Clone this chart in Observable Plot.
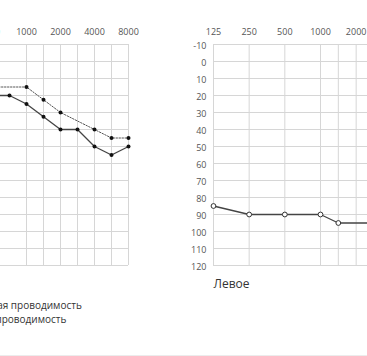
<!DOCTYPE html>
<html>
<head>
<meta charset="utf-8">
<script src="https://cdn.jsdelivr.net/npm/d3@7"></script>
<script src="https://cdn.jsdelivr.net/npm/@observablehq/plot@0.6"></script>
<style>
  html, body { margin: 0; padding: 0; background: #fff; }
  #wrap { position: relative; width: 367px; height: 356px; overflow: hidden; background: #fff;
          font-family: "Open Sans", sans-serif; }
  .panel { position: absolute; top: 0; }
  #legend { position: absolute; top: 298px; font-size: 10px; color: #333; line-height: 14px; white-space: nowrap; }
  #legend .item { display: flex; align-items: center; }
  #legend svg { margin-right: 6px; flex: none; }
  .measure { position: absolute; visibility: hidden; font-family: "Open Sans", sans-serif; font-size: 10px; white-space: pre; }
  #rule { position: absolute; left: 0; top: 355px; width: 367px; height: 1px; background: #ececec; }
</style>
</head>
<body>
<div id="wrap">
  <div id="legend"></div>
  <div id="rule"></div>
</div>
<script>
// Frequency slots along the x axis (null = spacer slot)
const slots = [125, null, 250, null, 500, 750, 1000, 1500, 2000, 3000, 4000, 6000, 8000];
const labelFreqs = [125, 250, 500, 1000, 2000, 4000, 8000];
const gridFreqs = [125, 250, 500, 1000, 1500, 2000, 3000, 4000, 6000, 8000];
const dbTicks = [-10, 0, 10, 20, 30, 40, 50, 60, 70, 80, 90, 100, 110, 120];

// Right ear (left panel)
const rightAirFreq = [500, 750, 1000, 1500, 2000, 3000, 4000, 6000, 8000];
const rightAirDb   = [20, 20, 25, 32.5, 40, 40, 50, 55, 50];
const rightBoneFreq = [500, 1000, 1500, 2000, 4000, 6000, 8000];
const rightBoneDb   = [15, 15, 22.5, 30, 40, 45, 45];

// Left ear (right panel)
const leftAirFreq = [125, 250, 500, 1000, 1500, 3000];
const leftAirDb   = [85, 90, 90, 90, 95, 95];

const panelTitles = ["Правое", "Левое"];
const legendLabels = ["Воздушная проводимость", "Костная проводимость"];

const pos = f => slots.indexOf(f);
const toRows = (fs, ds) => fs.map((f, i) => ({x: pos(f), db: ds[i]}));

function panel({title, series, left, marginLeft, marginRight}) {
  const width = 300;
  const marks = [
    Plot.gridX(gridFreqs.map(pos), {stroke: "#d6d6d6", strokeOpacity: 1}),
    Plot.gridY(dbTicks, {stroke: "#d6d6d6", strokeOpacity: 1}),
    Plot.axisX(labelFreqs.map(pos), {anchor: "top", tickSize: 0, tickPadding: 10, label: null,
      tickFormat: i => String(slots[i]), fill: "#555", fontSize: 9}),
    Plot.axisY(dbTicks, {anchor: "left", tickSize: 0, tickPadding: 7, dy: 2, fill: "#555", fontSize: 9,
      label: null, tickFormat: d => String(d)}),
    Plot.text([title], {frameAnchor: "bottom-left", dy: 22, textAnchor: "start", fontSize: 12, fill: "#333"})
  ];
  for (const s of series) {
    marks.push(Plot.line(s.rows, {x: "x", y: "db", stroke: s.stroke, strokeWidth: s.strokeWidth,
      strokeDasharray: s.dash}));
    marks.push(Plot.dot(s.rows, {x: "x", y: "db", r: s.r, fill: s.fill, stroke: s.dotStroke, strokeWidth: 1}));
  }
  const svg = Plot.plot({
    width, height: 356,
    marginTop: 44, marginBottom: 91, marginLeft, marginRight,
    x: {type: "linear", domain: [0, slots.length - 1], axis: null, label: null},
    y: {domain: [-10, 120], reverse: true, axis: null, label: null},
    style: {fontFamily: "'Open Sans', sans-serif", fontSize: "9px", background: "transparent", overflow: "visible"},
    marks
  });
  svg.classList.add("panel");
  svg.style.left = left + "px";
  svg.style.position = "absolute";
  svg.style.top = "0px";
  document.getElementById("wrap").appendChild(svg);
}

panel({
  title: panelTitles[0], left: -150, marginLeft: 74, marginRight: 22,
  series: [
    {rows: toRows(rightBoneFreq, rightBoneDb), stroke: "#555", strokeWidth: 1, dash: "1.5 1.5", r: 2, fill: "#111", dotStroke: "none"},
    {rows: toRows(rightAirFreq, rightAirDb), stroke: "#444", strokeWidth: 1.3, dash: null, r: 2, fill: "#111", dotStroke: "none"}
  ]
});
panel({
  title: panelTitles[1], left: 150, marginLeft: 63, marginRight: 23,
  series: [
    {rows: toRows(leftAirFreq, leftAirDb), stroke: "#444", strokeWidth: 1.3, dash: null, r: 2.4, fill: "#fff", dotStroke: "#333"}
  ]
});

// Legend
const legend = document.getElementById("legend");
legendLabels.forEach((lab, i) => {
  const item = document.createElement("div");
  item.className = "item";
  const dash = i === 0 ? "" : 'stroke-dasharray="1.5 1.5"';
  item.innerHTML = `<svg width="24" height="8"><line x1="0" y1="4" x2="24" y2="4" stroke="#444" stroke-width="1.2" ${dash}/><circle cx="12" cy="4" r="2" fill="#111"/></svg><span>${lab}</span>`;
  legend.appendChild(item);
});
function textWidth(t) {
  const s = document.createElement("span");
  s.className = "measure";
  s.textContent = t;
  document.body.appendChild(s);
  const w = s.getBoundingClientRect().width;
  s.remove();
  return w;
}
const lastWord = legendLabels[1].split(" ").slice(-1)[0];
const prefixW = textWidth(legendLabels[1]) - textWidth(lastWord);
legend.style.left = (-4.5 - prefixW - 30) + "px";
</script>
</body>
</html>
